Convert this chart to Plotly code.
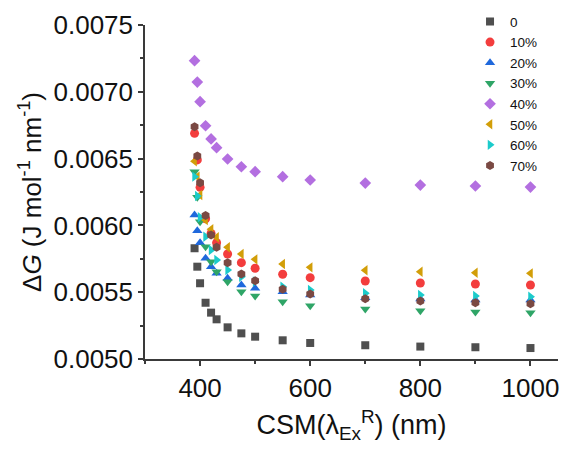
import plotly.graph_objects as go

# Excitation wavelengths (nm)
wavelength = [390, 395, 400, 410, 420, 430, 450, 475, 500, 550, 600, 700, 800, 900, 1000]

# Delta G series (J mol^-1 nm^-1) per composition
dg_0 = [0.005829, 0.005691, 0.005567, 0.005421, 0.005347, 0.005297, 0.005237, 0.005192,
        0.005167, 0.005140, 0.005120, 0.005103, 0.005093, 0.005088, 0.005082]
dg_10 = [0.006689, 0.006490, 0.006285, 0.006050, 0.005940, 0.005871, 0.005786, 0.005721,
         0.005679, 0.005634, 0.005609, 0.005584, 0.005569, 0.005561, 0.005554]
dg_20 = [0.006078, 0.005960, 0.005870, 0.005754, 0.005690, 0.005641, 0.005604, 0.005554,
         0.005530, 0.005504, 0.005479, 0.005459, 0.005449, 0.005442, 0.005442]
dg_30 = [0.006402, 0.006210, 0.006028, 0.005841, 0.005728, 0.005653, 0.005579, 0.005504,
         0.005472, 0.005429, 0.005399, 0.005374, 0.005362, 0.005352, 0.005347]
dg_40 = [0.007233, 0.007073, 0.006926, 0.006746, 0.006647, 0.006582, 0.006497, 0.006439,
         0.006402, 0.006365, 0.006340, 0.006317, 0.006302, 0.006295, 0.006287]
dg_50 = [0.006480, 0.006365, 0.006228, 0.006040, 0.005971, 0.005911, 0.005836, 0.005786,
         0.005746, 0.005711, 0.005686, 0.005664, 0.005653, 0.005646, 0.005641]
dg_60 = [0.006365, 0.006220, 0.006061, 0.005915, 0.005816, 0.005741, 0.005666, 0.005616,
         0.005580, 0.005541, 0.005517, 0.005492, 0.005479, 0.005472, 0.005466]
dg_70 = [0.006739, 0.006520, 0.006320, 0.006074, 0.005928, 0.005836, 0.005721, 0.005636,
         0.005586, 0.005522, 0.005487, 0.005451, 0.005434, 0.005421, 0.005414]

series_names = ["0", "10%", "20%", "30%", "40%", "50%", "60%", "70%"]
series_values = [dg_0, dg_10, dg_20, dg_30, dg_40, dg_50, dg_60, dg_70]
colors = ["#4f4f4f", "#f33d3d", "#1f68dc", "#2fa567", "#b36fe0",
          "#d29e08", "#1ccbcb", "#7a4943"]
symbols = ["square", "circle", "triangle-up", "triangle-down", "diamond",
           "triangle-left", "triangle-right", "hexagon"]
sizes = [8, 9, 9, 9, 9, 9, 9, 9]

FONT = "Liberation Sans, Arial, sans-serif"

fig = go.Figure()
for name, vals, col, sym, sz in zip(series_names, series_values, colors, symbols, sizes):
    fig.add_trace(go.Scatter(
        x=wavelength, y=vals, name=name, mode="markers",
        marker=dict(symbol=sym, color=col, size=sz, line=dict(width=0)),
    ))

axis_common = dict(
    showline=True, linecolor="#3a3a3a", linewidth=1.5, mirror=False,
    showgrid=False, zeroline=False,
    ticks="outside", ticklen=5, tickwidth=1.5, tickcolor="#3a3a3a",
    tickfont=dict(family=FONT, size=26, color="#111"),
    minor=dict(ticks="outside", ticklen=3, tickwidth=1.5, tickcolor="#3a3a3a"),
)

fig.update_xaxes(
    range=[300, 1050], tickvals=[400, 600, 800, 1000],
    minor_tickvals=[300, 500, 700, 900],
    ticklabelstandoff=0,
    title=dict(text="CSM(λ<sub>Ex</sub><sup>R</sup>) (nm)",
               font=dict(family=FONT, size=27, color="#111"), standoff=13),
    **axis_common,
)
fig.update_yaxes(
    range=[0.005, 0.0075],
    tickvals=[0.0050, 0.0055, 0.0060, 0.0065, 0.0070, 0.0075],
    ticktext=["0.0050", "0.0055", "0.0060", "0.0065", "0.0070", "0.0075"],
    minor_tickvals=[0.00525, 0.00575, 0.00625, 0.00675, 0.00725],
    title=dict(text="Δ<i>G</i> (J mol<sup>-1</sup> nm<sup>-1</sup>)",
               font=dict(family=FONT, size=26, color="#111"), standoff=4),
    **axis_common,
)

fig.update_layout(
    width=566, height=451,
    margin=dict(l=145, r=8, t=25, b=92, autoexpand=False),
    paper_bgcolor="white", plot_bgcolor="white",
    showlegend=True,
    legend=dict(
        x=0.787, y=1.056, xanchor="left", yanchor="top",
        font=dict(family=FONT, size=13.5, color="#111"),
        bgcolor="rgba(0,0,0,0)", borderwidth=0, tracegroupgap=0,
    ),
)

fig.write_html("out.html")
